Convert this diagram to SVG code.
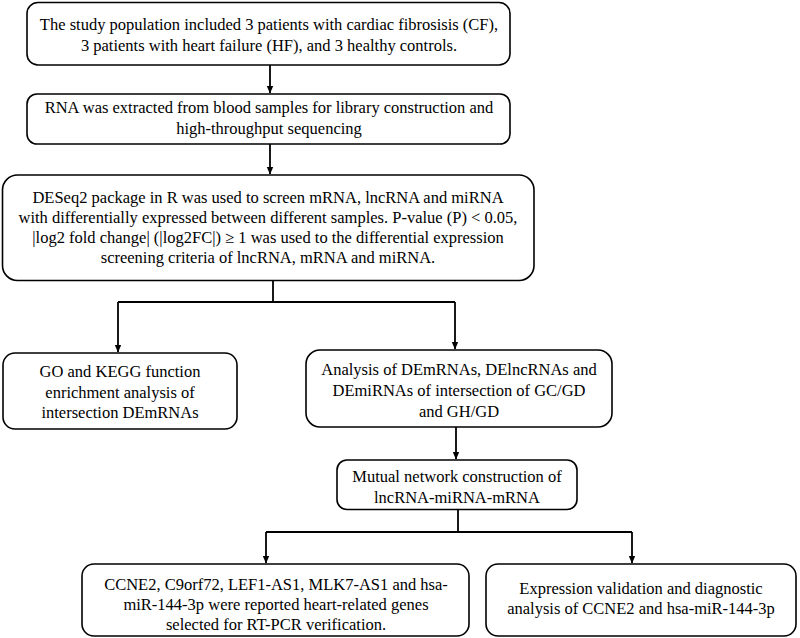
<svg xmlns="http://www.w3.org/2000/svg" width="800" height="638" viewBox="0 0 800 638">
<defs>
<marker id="ah" markerWidth="8" markerHeight="8" refX="7" refY="4" orient="auto" markerUnits="userSpaceOnUse">
<path d="M0,0.8 L7.5,4 L0,7.2 Z" fill="#000"/>
</marker>
<style>
.box{fill:#fff;stroke:#000;stroke-width:1.6}
.t{font-family:"Liberation Serif","Times New Roman",serif;font-size:16.5px;fill:#000;text-anchor:middle}
.c{fill:none;stroke:#000;stroke-width:1.8}
</style>
</defs>
<rect width="800" height="638" fill="#fff"/>
<g id="connectors">
<line class="c" x1="270" y1="65" x2="270" y2="93" marker-end="url(#ah)"/>
<line class="c" x1="270" y1="144" x2="270" y2="174" marker-end="url(#ah)"/>
<polyline class="c" points="273,280 273,302"/>
<polyline class="c" points="118,302 455,302"/>
<line class="c" x1="118" y1="302" x2="118" y2="352" marker-end="url(#ah)"/>
<line class="c" x1="455" y1="302" x2="455" y2="349" marker-end="url(#ah)"/>
<line class="c" x1="456" y1="427" x2="456" y2="459" marker-end="url(#ah)"/>
<polyline class="c" points="458,509 458,532"/>
<polyline class="c" points="266,532 632,532"/>
<line class="c" x1="266" y1="532" x2="266" y2="563" marker-end="url(#ah)"/>
<line class="c" x1="632" y1="532" x2="632" y2="563" marker-end="url(#ah)"/>
</g>
<g id="n1">
<rect class="box" x="27" y="2.5" width="483" height="62.5" rx="11"/>
<text class="t" x="269" y="30">The study population included 3 patients with cardiac fibrosisis (CF),</text>
<text class="t" x="269" y="50.5">3 patients with heart failure (HF), and 3 healthy controls.</text>
</g>
<g id="n2">
<rect class="box" x="27" y="94" width="483" height="50" rx="10"/>
<text class="t" x="269" y="113">RNA was extracted from blood samples for library construction and</text>
<text class="t" x="269" y="133.5">high-throughput sequencing</text>
</g>
<g id="n3">
<rect class="box" x="2.5" y="175" width="531.5" height="105.5" rx="15"/>
<text class="t" x="268" y="203">DESeq2 package in R was used to screen mRNA, lncRNA and miRNA</text>
<text class="t" x="268" y="223">with differentially expressed between different samples. P-value (P) &lt; 0.05,</text>
<text class="t" x="268" y="243">|log2 fold change| (|log2FC|) ≥ 1 was used to the differential expression</text>
<text class="t" x="268" y="263">screening criteria of lncRNA, mRNA and miRNA.</text>
</g>
<g id="n4">
<rect class="box" x="3" y="353" width="234" height="76" rx="12"/>
<text class="t" x="120" y="377">GO and KEGG function</text>
<text class="t" x="120" y="397.5">enrichment analysis of</text>
<text class="t" x="120" y="418">intersection DEmRNAs</text>
</g>
<g id="n5">
<rect class="box" x="306" y="350" width="306" height="77" rx="14"/>
<text class="t" x="459" y="375">Analysis of DEmRNAs, DElncRNAs and</text>
<text class="t" x="459" y="396">DEmiRNAs of intersection of GC/GD</text>
<text class="t" x="459" y="417">and GH/GD</text>
</g>
<g id="n6">
<rect class="box" x="337" y="460" width="240" height="49.5" rx="10"/>
<text class="t" x="457" y="482">Mutual network construction of</text>
<text class="t" x="457" y="503">lncRNA-miRNA-mRNA</text>
</g>
<g id="n7">
<rect class="box" x="82" y="564" width="387" height="72" rx="12"/>
<text class="t" x="276" y="590">CCNE2, C9orf72, LEF1-AS1, MLK7-AS1 and hsa-</text>
<text class="t" x="276" y="610">miR-144-3p were reported heart-related genes</text>
<text class="t" x="276" y="630">selected for RT-PCR verification.</text>
</g>
<g id="n8">
<rect class="box" x="486" y="564" width="310" height="72" rx="12"/>
<text class="t" x="641" y="594">Expression validation and diagnostic</text>
<text class="t" x="641" y="614">analysis of CCNE2 and hsa-miR-144-3p</text>
</g>
</svg>
